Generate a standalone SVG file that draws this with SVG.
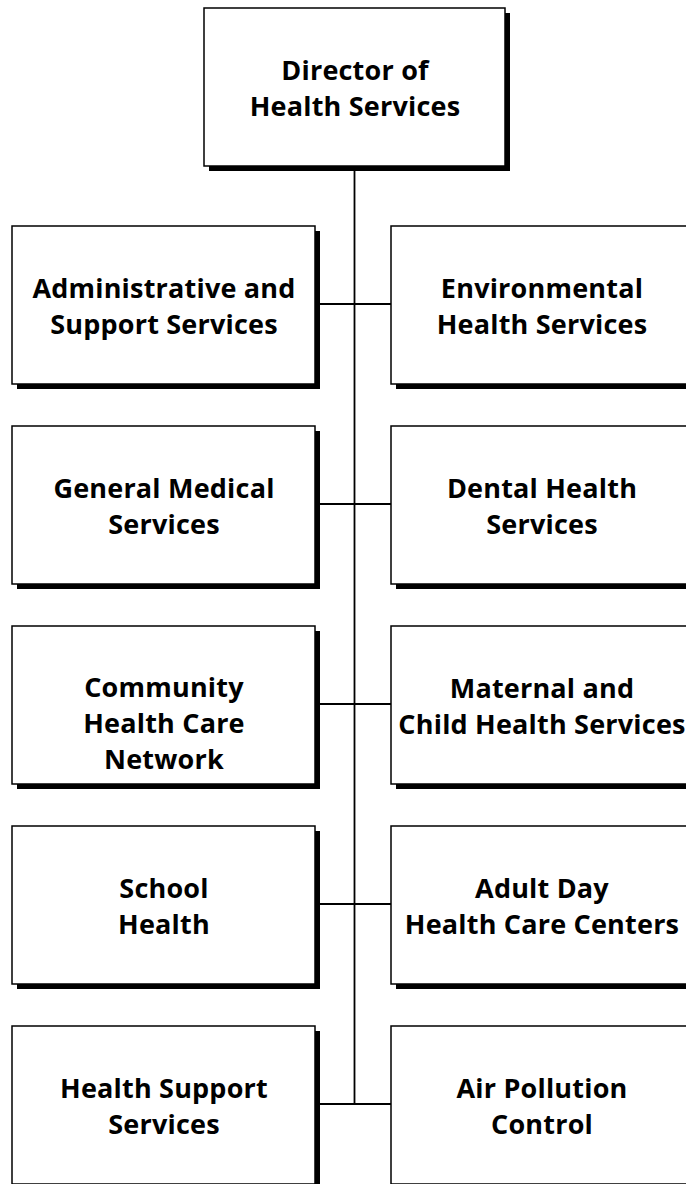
<svg xmlns="http://www.w3.org/2000/svg" width="686" height="1184" viewBox="0 0 686 1184">
<style>
.sh{fill:#000}
.bx{fill:#fff;stroke:#000;stroke-width:1.5}
.t{font-family:"Open Sans","Liberation Sans",sans-serif;font-weight:bold;font-size:27px;letter-spacing:0.2px;text-anchor:middle;fill:#000}
.c{stroke:#000;stroke-width:1.8;fill:none}
</style>
<rect width="686" height="1184" fill="#fff"/>
<g id="connectors">
<line class="c" x1="354.5" y1="166" x2="354.5" y2="1104"/>
<line class="c" x1="315" y1="304" x2="391" y2="304"/>
<line class="c" x1="315" y1="504" x2="391" y2="504"/>
<line class="c" x1="315" y1="704" x2="391" y2="704"/>
<line class="c" x1="315" y1="904" x2="391" y2="904"/>
<line class="c" x1="315" y1="1104" x2="391" y2="1104"/>
</g>
<g id="director">
<rect class="sh" x="209" y="13" width="301" height="158"/>
<rect class="bx" x="204" y="8" width="301" height="158"/>
<text class="t" x="355" y="80">Director of</text>
<text class="t" x="355" y="116">Health Services</text>
</g>
<g id="admin">
<rect class="sh" x="17" y="231" width="303" height="158"/>
<rect class="bx" x="12" y="226" width="303" height="158"/>
<text class="t" x="164" y="298">Administrative and</text>
<text class="t" x="164" y="334">Support Services</text>
</g>
<g id="environmental">
<rect class="sh" x="396" y="231" width="303" height="158"/>
<rect class="bx" x="391" y="226" width="303" height="158"/>
<text class="t" x="542" y="298">Environmental</text>
<text class="t" x="542" y="334">Health Services</text>
</g>
<g id="general">
<rect class="sh" x="17" y="431" width="303" height="158"/>
<rect class="bx" x="12" y="426" width="303" height="158"/>
<text class="t" x="164" y="498">General Medical</text>
<text class="t" x="164" y="534">Services</text>
</g>
<g id="dental">
<rect class="sh" x="396" y="431" width="303" height="158"/>
<rect class="bx" x="391" y="426" width="303" height="158"/>
<text class="t" x="542" y="498">Dental Health</text>
<text class="t" x="542" y="534">Services</text>
</g>
<g id="community">
<rect class="sh" x="17" y="631" width="303" height="158"/>
<rect class="bx" x="12" y="626" width="303" height="158"/>
<text class="t" x="164" y="697">Community</text>
<text class="t" x="164" y="733">Health Care</text>
<text class="t" x="164" y="769">Network</text>
</g>
<g id="maternal">
<rect class="sh" x="396" y="631" width="303" height="158"/>
<rect class="bx" x="391" y="626" width="303" height="158"/>
<text class="t" x="542" y="698">Maternal and</text>
<text class="t" x="542" y="734">Child Health Services</text>
</g>
<g id="school">
<rect class="sh" x="17" y="831" width="303" height="158"/>
<rect class="bx" x="12" y="826" width="303" height="158"/>
<text class="t" x="164" y="898">School</text>
<text class="t" x="164" y="934">Health</text>
</g>
<g id="adultday">
<rect class="sh" x="396" y="831" width="303" height="158"/>
<rect class="bx" x="391" y="826" width="303" height="158"/>
<text class="t" x="542" y="898">Adult Day</text>
<text class="t" x="542" y="934">Health Care Centers</text>
</g>
<g id="healthsupport">
<rect class="sh" x="17" y="1031" width="303" height="158"/>
<rect class="bx" x="12" y="1026" width="303" height="158"/>
<text class="t" x="164" y="1098">Health Support</text>
<text class="t" x="164" y="1134">Services</text>
</g>
<g id="airpollution">
<rect class="sh" x="396" y="1031" width="303" height="158"/>
<rect class="bx" x="391" y="1026" width="303" height="158"/>
<text class="t" x="542" y="1098">Air Pollution</text>
<text class="t" x="542" y="1134">Control</text>
</g>
</svg>
